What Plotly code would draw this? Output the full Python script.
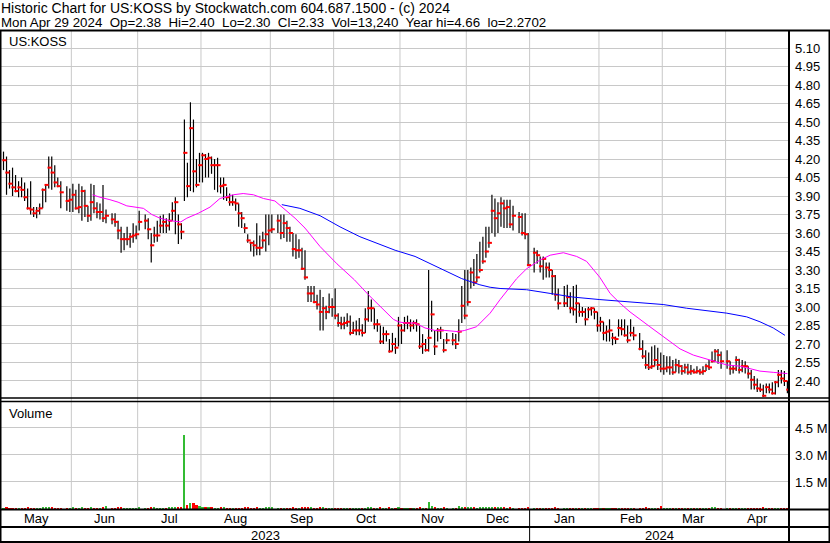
import pandas as pd
import plotly.graph_objects as go

# ---------------- data ----------------
symbol = "US:KOSS"
title_line1 = "Historic Chart for US:KOSS by Stockwatch.com 604.687.1500 - (c) 2024"
title_line2 = "Mon Apr 29 2024  Op=2.38  Hi=2.40  Lo=2.30  Cl=2.33  Vol=13,240  Year hi=4.66  lo=2.2702"

start_date = "2023-05-01"
end_date = "2024-04-29"
holidays = ["2023-05-29", "2023-06-19", "2023-07-04", "2023-09-04", "2023-11-23",
            "2023-12-25", "2024-01-01", "2024-01-15", "2024-02-19", "2024-03-29"]

high = [
    4.26, 4.22, 4.11, 4.13, 4.07, 4.02, 4.05, 4.01, 3.96, 4.02, 3.81, 3.81, 3.84, 3.96, 3.99, 4.22, 4.22, 4.15, 4.05, 4.02, 3.98, 3.96,  # May
    4.00, 3.95, 4.00, 3.98, 3.95, 3.82, 4.00, 3.99, 3.85, 3.84, 3.99, 3.79, 3.76, 3.76, 3.70, 3.65, 3.60, 3.65, 3.60, 3.68, 3.66,  # Jun
    3.78, 3.75, 3.72, 3.60, 3.65, 3.70, 3.74, 3.75, 3.72, 3.76, 3.85, 3.89, 3.75, 3.68, 4.52, 4.17, 4.66, 4.52, 4.20, 4.25,  # Jul
    4.25, 4.24, 4.25, 4.22, 4.20, 4.21, 4.05, 4.05, 3.97, 3.92, 3.91, 3.88, 3.84, 3.77, 3.68, 3.59, 3.53, 3.54, 3.68, 3.58, 3.61, 3.75, 3.75,  # Aug
    3.75, 3.75, 3.75, 3.75, 3.70, 3.65, 3.60, 3.59, 3.55, 3.48, 3.46, 3.17, 3.17, 3.17, 3.10, 3.14, 3.08, 3.01, 3.11, 3.07,  # Sep
    3.15, 2.95, 2.92, 2.92, 2.95, 2.93, 2.88, 2.89, 2.91, 2.86, 2.99, 3.13, 3.06, 2.99, 2.90, 2.85, 2.84, 2.81, 2.74, 2.79, 2.75, 2.92,  # Oct
    2.86, 2.92, 2.93, 2.90, 2.89, 2.90, 2.85, 2.78, 2.74, 3.30, 3.05, 2.81, 2.83, 2.84, 2.74, 2.79, 2.79, 2.78, 2.90, 3.17, 3.30,  # Nov
    3.30, 3.32, 3.39, 3.43, 3.53, 3.57, 3.65, 3.65, 3.91, 3.88, 3.85, 3.89, 3.87, 3.87, 3.87, 3.82, 3.77, 3.76, 3.76, 3.60,  # Dec
    3.48, 3.46, 3.41, 3.41, 3.36, 3.36, 3.30, 3.26, 3.15, 3.17, 3.18, 3.12, 3.17, 3.18, 3.03, 3.00, 2.99, 3.00, 3.00, 2.99, 2.96,  # Jan
    2.92, 2.88, 2.85, 2.90, 2.79, 2.76, 2.90, 2.90, 2.90, 2.85, 2.90, 2.84, 2.79, 2.73, 2.65, 2.63, 2.68, 2.69, 2.67, 2.63,  # Feb
    2.61, 2.60, 2.60, 2.57, 2.58, 2.57, 2.53, 2.54, 2.54, 2.53, 2.50, 2.52, 2.50, 2.52, 2.54, 2.57, 2.64, 2.66, 2.66, 2.64,  # Mar
    2.65, 2.56, 2.53, 2.60, 2.58, 2.57, 2.56, 2.52, 2.49, 2.44, 2.42, 2.38, 2.37, 2.38, 2.38, 2.39, 2.40, 2.49, 2.49, 2.48, 2.40,  # Apr
]
low = [
    4.11, 3.91, 3.96, 3.90, 3.93, 3.89, 3.89, 3.86, 3.79, 3.75, 3.73, 3.72, 3.75, 3.80, 3.85, 3.96, 3.95, 3.97, 3.97, 3.80, 3.78, 3.77,
    3.77, 3.79, 3.76, 3.70, 3.73, 3.69, 3.70, 3.76, 3.72, 3.71, 3.69, 3.68, 3.67, 3.65, 3.55, 3.44, 3.46, 3.50, 3.48, 3.52, 3.55,
    3.62, 3.63, 3.55, 3.36, 3.52, 3.53, 3.60, 3.60, 3.60, 3.62, 3.70, 3.59, 3.51, 3.55, 3.86, 3.89, 3.94, 3.93, 3.97, 4.01,
    4.01, 4.05, 4.05, 4.08, 3.95, 3.93, 3.92, 3.87, 3.86, 3.82, 3.82, 3.78, 3.65, 3.64, 3.60, 3.52, 3.45, 3.41, 3.42, 3.42, 3.48, 3.45, 3.50,
    3.60, 3.60, 3.55, 3.56, 3.53, 3.53, 3.41, 3.39, 3.40, 3.30, 3.22, 3.04, 3.04, 3.03, 2.98, 2.81, 2.81, 2.90, 2.95, 2.92,
    2.90, 2.84, 2.82, 2.82, 2.84, 2.77, 2.78, 2.77, 2.77, 2.76, 2.79, 2.88, 2.88, 2.82, 2.80, 2.70, 2.70, 2.72, 2.63, 2.64, 2.62, 2.68,
    2.70, 2.80, 2.82, 2.80, 2.82, 2.80, 2.66, 2.62, 2.64, 2.64, 2.80, 2.61, 2.72, 2.74, 2.63, 2.70, 2.69, 2.66, 2.72, 2.87, 2.90,
    3.01, 3.15, 3.17, 3.20, 3.28, 3.35, 3.40, 3.48, 3.60, 3.57, 3.60, 3.65, 3.64, 3.64, 3.64, 3.62, 3.60, 3.58, 3.55, 3.33,
    3.28, 3.35, 3.28, 3.22, 3.24, 3.24, 3.10, 3.05, 2.98, 3.00, 3.00, 2.95, 2.93, 2.87, 2.92, 2.92, 2.85, 2.91, 2.93, 2.90, 2.80,
    2.80, 2.73, 2.72, 2.72, 2.69, 2.70, 2.76, 2.77, 2.76, 2.71, 2.76, 2.73, 2.65, 2.58, 2.50, 2.49, 2.50, 2.52, 2.49, 2.47,
    2.45, 2.47, 2.45, 2.45, 2.47, 2.46, 2.45, 2.46, 2.45, 2.45, 2.46, 2.46, 2.45, 2.45, 2.48, 2.49, 2.55, 2.56, 2.54, 2.50,
    2.50, 2.45, 2.46, 2.48, 2.46, 2.47, 2.46, 2.42, 2.33, 2.33, 2.31, 2.31, 2.27, 2.30, 2.30, 2.29, 2.29, 2.35, 2.38, 2.36, 2.30,
]
close = [
    4.19, 4.09, 4.00, 3.97, 3.94, 3.97, 3.95, 3.89, 3.80, 3.79, 3.76, 3.78, 3.80, 3.95, 3.99, 4.13, 4.09, 4.01, 3.98, 3.93, 3.86, 3.87,
    3.91, 3.80, 3.81, 3.94, 3.82, 3.74, 3.85, 3.80, 3.77, 3.77, 3.72, 3.74, 3.71, 3.69, 3.62, 3.55, 3.55, 3.55, 3.57, 3.58, 3.59,
    3.69, 3.70, 3.63, 3.50, 3.58, 3.58, 3.66, 3.69, 3.66, 3.70, 3.78, 3.85, 3.67, 3.61, 4.25, 3.98, 4.45, 4.10, 3.99, 4.15,
    4.23, 4.20, 4.21, 4.15, 4.15, 4.15, 3.98, 3.99, 3.89, 3.85, 3.85, 3.84, 3.76, 3.72, 3.64, 3.54, 3.52, 3.50, 3.48, 3.48, 3.54, 3.59, 3.62,
    3.63, 3.70, 3.60, 3.68, 3.64, 3.60, 3.47, 3.46, 3.46, 3.31, 3.24, 3.11, 3.11, 3.04, 3.02, 2.96, 2.99, 2.96, 3.00, 3.00,
    2.93, 2.87, 2.86, 2.87, 2.88, 2.79, 2.81, 2.81, 2.81, 2.79, 2.90, 2.99, 2.99, 2.86, 2.86, 2.72, 2.78, 2.78, 2.64, 2.70, 2.67, 2.85,
    2.81, 2.87, 2.87, 2.85, 2.87, 2.86, 2.68, 2.70, 2.65, 2.75, 2.94, 2.68, 2.81, 2.81, 2.65, 2.73, 2.73, 2.70, 2.80, 3.01, 2.93,
    3.04, 3.28, 3.20, 3.24, 3.30, 3.37, 3.45, 3.52, 3.78, 3.72, 3.76, 3.84, 3.80, 3.81, 3.67, 3.74, 3.73, 3.60, 3.59, 3.34,
    3.44, 3.42, 3.33, 3.39, 3.32, 3.30, 3.25, 3.10, 3.03, 3.03, 3.08, 2.99, 2.98, 3.03, 2.96, 2.96, 2.90, 2.98, 2.99, 2.96, 2.85,
    2.88, 2.79, 2.80, 2.81, 2.75, 2.74, 2.83, 2.82, 2.77, 2.73, 2.79, 2.77, 2.66, 2.60, 2.53, 2.51, 2.52, 2.57, 2.53, 2.50,
    2.50, 2.51, 2.51, 2.47, 2.53, 2.52, 2.48, 2.51, 2.47, 2.48, 2.47, 2.48, 2.47, 2.48, 2.52, 2.51, 2.56, 2.64, 2.61, 2.56,
    2.56, 2.50, 2.50, 2.57, 2.49, 2.52, 2.52, 2.46, 2.41, 2.37, 2.34, 2.33, 2.28, 2.35, 2.33, 2.30, 2.39, 2.45, 2.42, 2.40, 2.33,
]
volume_k = [
    45, 60, 38, 52, 40, 35, 48, 55, 62, 40, 38, 42, 36, 70, 58, 110, 75, 50, 40, 45, 52, 38,
    60, 55, 40, 75, 48, 50, 65, 45, 40, 38, 90, 150, 55, 48, 62, 80, 45, 40, 38, 42, 50,
    70, 45, 52, 95, 60, 48, 55, 50, 45, 60, 75, 90, 70, 65, 4100, 250, 340, 310, 220, 150,
    120, 90, 70, 60, 55, 50, 75, 60, 55, 48, 45, 40, 55, 50, 60, 70, 52, 48, 60, 45, 55, 65, 58,
    60, 50, 55, 48, 40, 45, 70, 55, 50, 80, 75, 90, 60, 55, 50, 70, 58, 45, 50, 48,
    55, 45, 40, 38, 42, 50, 45, 40, 38, 42, 55, 80, 60, 50, 45, 60, 50, 45, 70, 55, 48, 65,
    50, 45, 40, 42, 38, 40, 60, 55, 50, 400, 160, 70, 50, 45, 60, 50, 45, 50, 180, 120, 90,
    90, 80, 60, 55, 70, 65, 75, 80, 120, 90, 70, 80, 60, 55, 65, 50, 45, 48, 50, 70,
    55, 45, 50, 40, 45, 42, 50, 60, 55, 48, 45, 50, 40, 55, 42, 38, 45, 40, 38, 42, 55,
    50, 45, 40, 42, 45, 38, 50, 40, 42, 45, 40, 38, 55, 50, 60, 45, 40, 48, 42, 140,
    50, 40, 38, 45, 42, 38, 40, 36, 38, 35, 40, 38, 36, 35, 42, 40, 60, 70, 55, 48,
    45, 40, 38, 50, 42, 40, 38, 45, 55, 50, 48, 40, 60, 45, 40, 42, 50, 55, 40, 35, 13.24,
]

# moving averages (position = weekday slot on the time axis)
ma_short_pos = [29.5, 32, 35.3, 38, 40.9, 44.2, 46.4, 49.2, 51.9, 55.2, 57.5, 58.8, 60.8, 64.6, 68.5,
                70.7, 71.8, 76.2, 79.5, 82.9, 86.2, 90, 93.4, 96.7, 100, 103.3, 105, 110.6, 116.4,
                121, 125.4, 129.3, 131, 133.2, 136.5, 139.8, 143.1, 146.4, 150.8, 153, 156.9, 161.4,
                164.7, 168, 170.2, 173.5, 177.9, 181.3, 185.7, 190.1, 193.4, 197.8, 201.2, 204.5,
                207.8, 214.4, 218.8, 224.4, 228.8, 234.3, 239.9, 244.3, 250.9, 255.3, 260]
ma_short_val = [3.91, 3.89, 3.87, 3.85, 3.82, 3.81, 3.80, 3.75, 3.72, 3.70, 3.69, 3.69, 3.72, 3.76, 3.81,
                3.86, 3.88, 3.91, 3.92, 3.91, 3.88, 3.86, 3.79, 3.72, 3.64, 3.54, 3.49, 3.35, 3.22,
                3.10, 2.99, 2.90, 2.88, 2.87, 2.87, 2.83, 2.81, 2.81, 2.80, 2.81, 2.84, 2.95,
                3.06, 3.16, 3.23, 3.31, 3.38, 3.42, 3.44, 3.41, 3.37, 3.24, 3.11, 3.03,
                2.96, 2.84, 2.76, 2.66, 2.61, 2.57, 2.53, 2.52, 2.48, 2.47, 2.46]
ma_long_pos = [92.3, 98.3, 105, 111.6, 118.2, 124.9, 129.9, 136.5, 140.9, 146.4, 152, 158, 161.4,
               164.7, 173.5, 181.3, 189, 197.8, 208.9, 218.8, 226.6, 234.3, 239.9, 246.5, 250.9,
               255.3, 259.2]
ma_long_val = [3.83, 3.80, 3.74, 3.65, 3.57, 3.51, 3.46, 3.41, 3.36, 3.30, 3.23, 3.18, 3.16,
               3.15, 3.14, 3.11, 3.08, 3.06, 3.04, 3.02, 2.99, 2.97, 2.95, 2.92, 2.88,
               2.83, 2.77]

price_ticks = [5.10, 4.95, 4.80, 4.65, 4.50, 4.35, 4.20, 4.05, 3.90, 3.75, 3.60, 3.45,
               3.30, 3.15, 3.00, 2.85, 2.70, 2.55, 2.40]
volume_ticks = [1.5e6, 3.0e6, 4.5e6]
volume_tick_text = ["1.5 M", "3.0 M", "4.5 M"]

# ---------------- calendar ----------------
weekdays = list(pd.bdate_range(start_date, end_date))
slot_of = {d: i for i, d in enumerate(weekdays)}
trading = [d for d in weekdays if d.strftime("%Y-%m-%d") not in holidays]
xs = [slot_of[d] for d in trading]
n = len(xs)
for name, arr in [("high", high), ("low", low), ("close", close), ("volume", volume_k)]:
    if len(arr) != n:
        raise ValueError(f"{name} has {len(arr)} values, expected {n}")

months = {}
for i, d in enumerate(weekdays):
    key = (d.year, d.month)
    if key not in months:
        months[key] = [i, i, d.strftime("%b")]
    months[key][1] = i
years = {}
for i, d in enumerate(weekdays):
    if d.year not in years:
        years[d.year] = [i, i]
    years[d.year][1] = i

# ---------------- geometry helpers ----------------
W, H = 830, 543
ML, MR, MT, MB = 1, 41, 31, 34
PW, PH = W - ML - MR, H - MT - MB
XMIN, XMAX = -0.83, 260.53


def pxx(px):
    return (px - ML) / PW


def pxy(py):
    return (H - MB - py) / PH


FONT = "Arial, 'Liberation Sans', sans-serif"
FS = 13
GRID = "#c8c8c8"

fig = go.Figure()

# hi-lo bars
lx, ly = [], []
for x, h, l in zip(xs, high, low):
    lx += [x, x, None]
    ly += [l, h, None]
fig.add_trace(go.Scatter(x=lx, y=ly, mode="lines", line=dict(color="black", width=1.2),
                         xaxis="x", yaxis="y", hoverinfo="skip"))
# close marks
fig.add_trace(go.Scatter(x=[x + 0.3 for x in xs], y=close, mode="markers",
                         marker=dict(symbol="line-ew", size=3, line=dict(color="#ff0000", width=2)),
                         xaxis="x", yaxis="y"))
# moving averages
fig.add_trace(go.Scatter(x=ma_short_pos, y=ma_short_val, mode="lines",
                         line=dict(color="#ff00ff", width=1), xaxis="x", yaxis="y"))
fig.add_trace(go.Scatter(x=ma_long_pos, y=ma_long_val, mode="lines",
                         line=dict(color="#0000ff", width=1), xaxis="x", yaxis="y"))
# volume
vcolors = ["#33bb33" if i == 0 or close[i] >= close[i - 1] else "#ff0000" for i in range(n)]
fig.add_trace(go.Bar(x=xs, y=[v * 1000 for v in volume_k], marker=dict(color=vcolors, line=dict(width=0)),
                     width=0.7, xaxis="x2", yaxis="y2"))

axis_common = dict(range=[XMIN, XMAX], showticklabels=False, showgrid=False, zeroline=False,
                   ticks="", showline=False, fixedrange=True)
fig.update_layout(
    width=W, height=H,
    margin=dict(l=ML, r=MR, t=MT, b=MB, pad=0),
    paper_bgcolor="white", plot_bgcolor="white",
    showlegend=False, bargap=0,
    font=dict(family=FONT, size=FS, color="black"),
    xaxis=dict(domain=[0, 1], anchor="y", **axis_common),
    xaxis2=dict(domain=[0, 1], anchor="y2", matches="x", **axis_common),
    yaxis=dict(domain=[pxy(398), 1], range=[2.262, 5.238], side="right", anchor="x",
               tickvals=price_ticks, ticktext=[f"{v:.2f}" for v in price_ticks],
               showgrid=True, gridcolor=GRID, gridwidth=1, zeroline=False, ticks="",
               ticklabelstandoff=5, tickfont=dict(size=FS, color="black"), fixedrange=True),
    yaxis2=dict(domain=[0, pxy(402)], range=[0, 5.94e6], side="right", anchor="x2",
                tickvals=volume_ticks, ticktext=volume_tick_text,
                showgrid=True, gridcolor=GRID, gridwidth=1, zeroline=False, ticks="",
                ticklabelstandoff=5, tickfont=dict(size=FS, color="black"), fixedrange=True),
)

shapes = []
# month gridlines
for (yr, mo), (first, last, name) in months.items():
    if first == 0:
        continue
    shapes.append(dict(type="line", xref="x", yref="paper", x0=first - 0.5, x1=first - 0.5,
                       y0=0, y1=1, line=dict(color=GRID, width=1), layer="below"))
# year separator in axis rows
for yr, (first, last) in years.items():
    if first == 0:
        continue
    shapes.append(dict(type="line", xref="x", yref="paper", x0=first - 0.5, x1=first - 0.5,
                       y0=pxy(543), y1=pxy(509), line=dict(color="black", width=1)))


def hline(py, x0=0, x1=W, w=2):
    shapes.append(dict(type="line", xref="paper", yref="paper", x0=pxx(x0), x1=pxx(x1),
                       y0=pxy(py), y1=pxy(py), line=dict(color="black", width=w)))


def vline(px, y0=30, y1=H, w=2):
    shapes.append(dict(type="line", xref="paper", yref="paper", x0=pxx(px), x1=pxx(px),
                       y0=pxy(y0), y1=pxy(y1), line=dict(color="black", width=w)))


hline(30.5)
hline(398, w=1.5)
hline(401.5, w=1.5)
hline(509.5)
hline(527)
hline(542)
vline(0.5)
vline(789)
vline(829.5)
fig.update_layout(shapes=shapes)

ann = []
ann.append(dict(text=title_line1, xref="paper", yref="paper", x=pxx(0), y=pxy(8),
                xanchor="left", yanchor="middle", showarrow=False, borderpad=0, font=dict(size=14)))
ann.append(dict(text=title_line2.replace("  ", "\u00a0 "), xref="paper", yref="paper", x=pxx(0), y=pxy(23),
                xanchor="left", yanchor="middle", showarrow=False, borderpad=0, font=dict(size=13.3)))
ann.append(dict(text=symbol, xref="paper", yref="paper", x=pxx(7), y=pxy(41),
                xanchor="left", yanchor="middle", showarrow=False, font=dict(size=FS)))
ann.append(dict(text="Volume", xref="paper", yref="paper", x=pxx(7), y=pxy(413),
                xanchor="left", yanchor="middle", showarrow=False, font=dict(size=FS)))
for (yr, mo), (first, last, name) in months.items():
    ann.append(dict(text=name, xref="x2", yref="paper", x=(first + last) / 2, y=pxy(518.5),
                    xanchor="center", yanchor="middle", showarrow=False, font=dict(size=FS)))
for yr, (first, last) in years.items():
    left = max(first - 0.5, XMIN)
    right = min(last + 0.5, XMAX)
    ann.append(dict(text=str(yr), xref="x2", yref="paper", x=(left + right) / 2, y=pxy(535),
                    xanchor="center", yanchor="middle", showarrow=False, font=dict(size=FS)))
fig.update_layout(annotations=ann)

fig.write_html("out.html", config={"displayModeBar": False},
               post_script="document.body.style.margin='0';document.body.style.padding='0';")
